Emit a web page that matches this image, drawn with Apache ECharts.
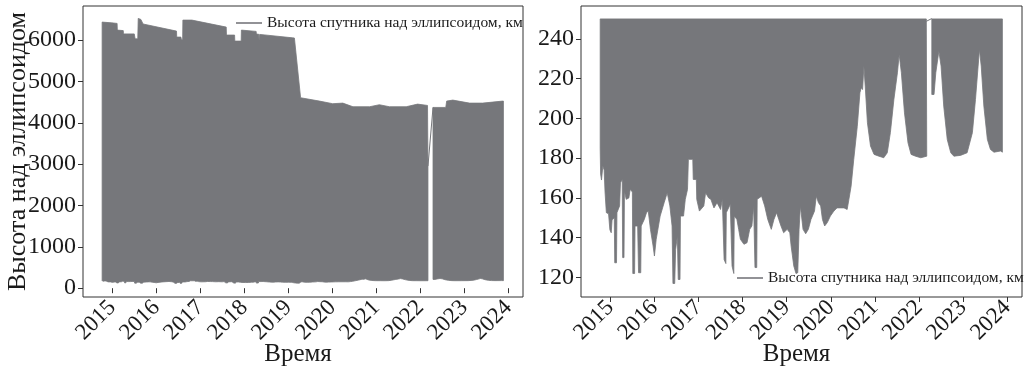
<!DOCTYPE html>
<html>
<head>
<meta charset="utf-8">
<script src="https://cdn.jsdelivr.net/npm/echarts@6/dist/echarts.min.js"></script>
<style>
html,body{margin:0;padding:0;background:#fff;}
#chart{width:1028px;height:376px;}
</style>
</head>
<body>
<div id="chart"></div>
<script>
// ---- data (x = decimal year, y = height, km) ----
const yearTicks = [2015, 2016, 2017, 2018, 2019, 2020, 2021, 2022, 2023, 2024];
const leftYTicks = [0, 1000, 2000, 3000, 4000, 5000, 6000];
const rightYTicks = [120, 140, 160, 180, 200, 220, 240];
const legendName = 'Высота спутника над эллипсоидом, км';

// upper envelope (apogee) before and after the 2022 data gap
const upperSeg1 = [
  [2014.77, 6436], [2014.99, 6417], [2015.11, 6404], [2015.115, 6242], [2015.25, 6230],
  [2015.255, 6150], [2015.50, 6150], [2015.52, 6030], [2015.58, 6030], [2015.59, 6525],
  [2015.65, 6500], [2015.70, 6390], [2016.46, 6218], [2016.465, 6073], [2016.56, 6073],
  [2016.57, 6017], [2016.60, 6017], [2016.605, 6484], [2016.81, 6484], [2017.59, 6315],
  [2017.595, 6122], [2017.78, 6122], [2017.785, 5976], [2017.93, 5976], [2017.935, 6242],
  [2018.27, 6211], [2018.275, 6146], [2018.33, 6140], [2018.335, 6020], [2018.345, 6020],
  [2018.35, 6138], [2019.10, 6055], [2019.14, 6050], [2019.28, 4606], [2019.71, 4525],
  [2020.01, 4462], [2020.24, 4476], [2020.47, 4389], [2020.85, 4389], [2021.07, 4437],
  [2021.30, 4389], [2021.68, 4389], [2021.94, 4452], [2022.165, 4420], [2022.175, 2952]
];
const upperSeg2 = [
  [2022.29, 4372], [2022.58, 4372], [2022.60, 4525], [2022.74, 4549], [2023.12, 4476],
  [2023.42, 4476], [2023.87, 4525], [2023.89, 4525]
];
// lower envelope (perigee) before and after the gap
const lowerSeg1 = [
  [2014.77, 185], [2014.78, 172], [2014.80, 169], [2014.83, 176], [2014.86, 174],
  [2014.88, 163], [2014.91, 152.6], [2014.96, 152], [2014.99, 144], [2015.02, 142.5],
  [2015.04, 149], [2015.09, 150], [2015.10, 127.4], [2015.14, 127.4], [2015.15, 152.6],
  [2015.21, 156], [2015.23, 167.6], [2015.27, 169.3], [2015.28, 130], [2015.31, 130],
  [2015.32, 163.4], [2015.36, 159.3], [2015.42, 160], [2015.45, 164.3], [2015.50, 163],
  [2015.51, 122], [2015.55, 122], [2015.56, 145.9], [2015.62, 145.9], [2015.64, 122.4],
  [2015.69, 122.4], [2015.70, 145.9], [2015.77, 149.2], [2015.82, 152.6], [2015.86, 153.4],
  [2015.91, 144.2], [2015.97, 135.8], [2016.00, 130.8], [2016.04, 139.2], [2016.13, 150.9],
  [2016.22, 157.6], [2016.29, 162.6], [2016.35, 156], [2016.40, 145.9], [2016.42, 117],
  [2016.46, 117], [2016.48, 134], [2016.52, 140.8], [2016.54, 119], [2016.58, 119],
  [2016.59, 150.9], [2016.66, 150.9], [2016.70, 159.3], [2016.75, 164.3], [2016.77, 179.4],
  [2016.87, 179.4], [2016.88, 169.3], [2016.95, 169.3], [2016.96, 159.3], [2017.02, 153.4],
  [2017.12, 156], [2017.16, 162.6], [2017.23, 160], [2017.28, 159.3], [2017.35, 155],
  [2017.42, 157.6], [2017.50, 154.2], [2017.54, 159.3], [2017.58, 129], [2017.62, 127],
  [2017.63, 152.6], [2017.72, 156.8], [2017.76, 125.8], [2017.80, 122], [2017.81, 150.9],
  [2017.87, 149.2], [2017.91, 144.2], [2017.95, 139.2], [2018.03, 136.7], [2018.10, 137.5],
  [2018.16, 144.2], [2018.21, 145.9], [2018.25, 156], [2018.28, 125], [2018.32, 125],
  [2018.33, 159.3], [2018.43, 160.9], [2018.50, 156], [2018.57, 149.2], [2018.65, 144.2],
  [2018.71, 149.2], [2018.77, 152.6], [2018.82, 149.2], [2018.87, 145.9], [2018.93, 142.5],
  [2019.01, 144.2], [2019.07, 142.5], [2019.10, 135.8], [2019.16, 125.8], [2019.21, 122],
  [2019.25, 122.4], [2019.28, 144.2], [2019.31, 156], [2019.37, 144.2], [2019.43, 142],
  [2019.49, 144.2], [2019.55, 149.2], [2019.63, 153.4], [2019.67, 160.9], [2019.72, 157.6],
  [2019.77, 156], [2019.81, 149.2], [2019.86, 145.9], [2019.92, 147.6], [2019.99, 150.9],
  [2020.07, 153.4], [2020.14, 155], [2020.30, 155], [2020.37, 154.2], [2020.41, 159.3],
  [2020.46, 166], [2020.52, 179.4], [2020.60, 196], [2020.66, 212.9], [2020.69, 215.4],
  [2020.72, 214.5], [2020.75, 226.3], [2020.78, 216.2], [2020.83, 197.8], [2020.90, 186.1],
  [2020.98, 181.9], [2021.09, 181], [2021.20, 180.2], [2021.28, 182.7], [2021.35, 192.8],
  [2021.43, 209.5], [2021.51, 222.9], [2021.55, 232.1], [2021.60, 222.9], [2021.67, 202.8],
  [2021.75, 187.7], [2021.82, 181.9], [2021.92, 181], [2022.04, 180.2], [2022.175, 181]
];
const lowerSeg2 = [
  [2022.29, 212], [2022.34, 212], [2022.38, 222.9], [2022.45, 233.8], [2022.50, 226.3],
  [2022.56, 206.2], [2022.64, 189.4], [2022.72, 182.7], [2022.79, 181], [2022.94, 181.4],
  [2023.09, 182.7], [2023.21, 192.8], [2023.28, 209.5], [2023.34, 226.3], [2023.37, 234.6],
  [2023.41, 226.3], [2023.47, 206.2], [2023.55, 189.4], [2023.62, 184.4], [2023.70, 183],
  [2023.85, 183.6], [2023.89, 183]
];
// right panel: records limited to 250 km
const ceilingSeg1 = [[2014.77, 250], [2022.165, 250]];
const ceilingSeg2 = [[2022.29, 250], [2023.89, 250]];
// thin connecting lines across the gap
const gapLeft = [[2022.175, 2952], [2022.29, 4372]];
const gapRight = [[2022.165, 248.8], [2022.29, 250.2]];

// ---- styling ----
const FILL = '#76777b';
const FRAME = '#333333';
const TXT = '#1a1a1a';
const FONT = 'Liberation Serif';

function bandSeries(name, xi, segments) {
  const pts = segments[0].upper;
  return {
    type: 'custom', name: name, xAxisIndex: xi, yAxisIndex: xi,
    silent: true, clip: true,
    data: [pts[0]],
    encode: { x: 0, y: 1 },
    renderItem: function (params, api) {
      if (params.dataIndex !== 0) return null;
      const children = segments.map(function (s) {
        const poly = s.upper.concat(s.lower.slice().reverse()).map(function (p) { return api.coord(p); });
        return { type: 'polygon', shape: { points: poly }, style: { fill: FILL, stroke: FILL, lineWidth: 0.8 } };
      });
      return { type: 'group', children: children };
    }
  };
}
function gapSeries(data, xi) {
  return {
    type: 'line', xAxisIndex: xi, yAxisIndex: xi, data: data, silent: true,
    symbol: 'none', lineStyle: { color: FILL, width: 1 }, itemStyle: { color: FILL }
  };
}
function xAxis(gi) {
  return {
    type: 'value', gridIndex: gi, min: 2014.335, max: 2024.335,
    name: 'Время', nameLocation: 'middle', nameGap: 45, nameMoveOverlap: false,
    nameTextStyle: { fontFamily: FONT, fontSize: 25, color: TXT, padding: [0, 10, 0, 0] },
    axisLine: { show: false },
    splitLine: { show: false },
    axisTick: { show: true, inside: false, length: 5, customValues: yearTicks, lineStyle: { color: FRAME, width: 1 } },
    axisLabel: { customValues: yearTicks, rotate: 45, margin: 7, fontFamily: FONT, fontSize: 23, color: TXT,
      formatter: function (v) { return String(Math.round(v)); } }
  };
}
function yAxis(gi, min, max, ticks, name) {
  return {
    type: 'value', gridIndex: gi, min: min, max: max,
    name: name, nameLocation: 'middle', nameGap: 52, nameRotate: 90, nameMoveOverlap: false,
    nameTextStyle: { fontFamily: FONT, fontSize: 26, color: TXT },
    axisLine: { show: false },
    splitLine: { show: false },
    axisTick: { show: true, inside: false, length: 5, customValues: ticks, lineStyle: { color: FRAME, width: 1 } },
    axisLabel: { customValues: ticks, margin: 7, fontFamily: FONT, fontSize: 24, color: TXT,
      formatter: function (v) { return String(Math.round(v)); } }
  };
}
const legendIcon = 'path://M0,0H26V1.6H0Z';
const chart = echarts.init(document.getElementById('chart'), null, { renderer: 'canvas' });
chart.setOption({
  animation: false,
  backgroundColor: '#ffffff',
  grid: [
    { left: 83, top: 6, width: 440, height: 291, show: true, borderColor: FRAME, borderWidth: 1, backgroundColor: '#fff', outerBoundsMode: 'none', containLabel: false },
    { left: 581, top: 6, width: 441, height: 291, show: true, borderColor: FRAME, borderWidth: 1, backgroundColor: '#fff', outerBoundsMode: 'none', containLabel: false }
  ],
  xAxis: [xAxis(0), xAxis(1)],
  yAxis: [
    yAxis(0, -213, 6825, leftYTicks, 'Высота над эллипсоидом'),
    yAxis(1, 110.2, 256.5, rightYTicks, '')
  ],
  legend: [
    { left: 236, top: 15, padding: 0, itemWidth: 26, itemHeight: 16, itemGap: 0, selectedMode: false,
      data: [{ name: legendName, icon: legendIcon, itemStyle: { color: FILL } }],
      textStyle: { fontFamily: FONT, fontSize: 15.5, color: TXT } },
    { left: 737, top: 270, padding: 0, itemWidth: 26, itemHeight: 16, itemGap: 0, selectedMode: false,
      data: [{ name: legendName, icon: legendIcon, itemStyle: { color: FILL } }],
      textStyle: { fontFamily: FONT, fontSize: 15.5, color: TXT } }
  ],
  series: [
    bandSeries(legendName, 0, [{ upper: upperSeg1, lower: lowerSeg1 }, { upper: upperSeg2, lower: lowerSeg2 }]),
    gapSeries(gapLeft, 0),
    bandSeries(legendName, 1, [{ upper: ceilingSeg1, lower: lowerSeg1 }, { upper: ceilingSeg2, lower: lowerSeg2 }]),
    gapSeries(gapRight, 1)
  ]
});
</script>
</body>
</html>
